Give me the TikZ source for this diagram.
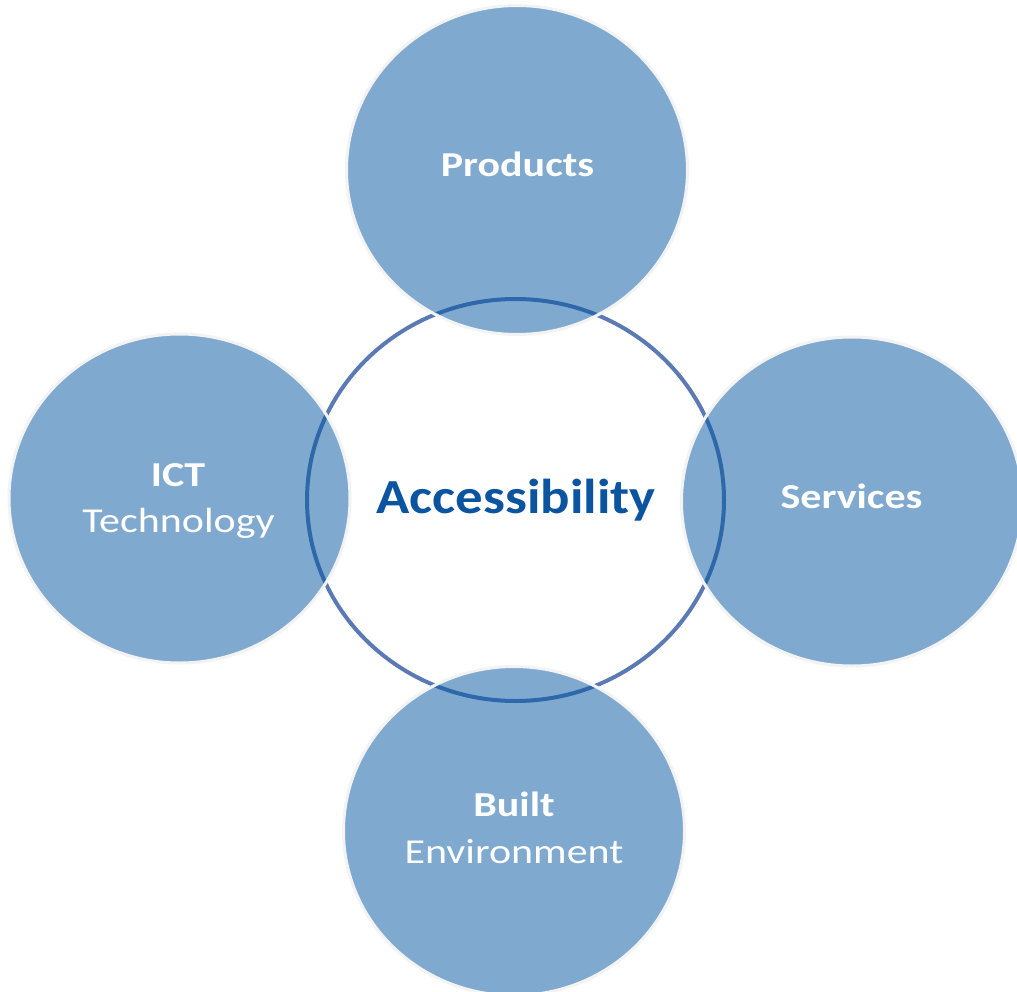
\documentclass[tikz,border=0pt]{standalone}
\usepackage{fontspec}
\setmainfont{Carlito}
\usetikzlibrary{shapes.geometric}
\definecolor{petal}{RGB}{2,85,160}
\definecolor{ringblue}{RGB}{91,122,181}
\definecolor{rimgray}{RGB}{243,243,243}
\definecolor{titleblue}{RGB}{10,84,160}
\tikzset{
  petal/.style={ellipse, inner sep=0pt, minimum width=341pt, minimum height=329pt,
    fill=petal, fill opacity=0.5, draw=rimgray, line width=3pt},
  hub/.style={ellipse, inner sep=0pt, minimum width=417pt, minimum height=402pt,
    draw=ringblue, line width=4pt, fill=white},
  lbl/.style={anchor=base, text=white, inner sep=0pt, xscale=1.2, transform shape,
    font=\fontsize{35}{35}\selectfont},
  blbl/.style={lbl, font=\fontsize{35}{35}\selectfont\bfseries},
}
\begin{document}
\begin{tikzpicture}[x=1pt,y=-1pt]
\useasboundingbox[fill=white] (0,0) rectangle (1017,992);
\node[hub] (hub) at (515.5,500) {};
\node[petal] (products) at (517,170) {};
\node[petal] (services) at (852,501.5) {};
\node[petal] (ict) at (179.5,498.5) {};
\node[petal] (built) at (514,831) {};
\node[anchor=base, inner sep=0pt, text=titleblue, xscale=1.12, transform shape,
  font=\fontsize{49}{49}\selectfont\bfseries] (acc) at (516,513) {Accessibility};
\node[blbl] (tprod) at (517.5,177) {Products};
\node[blbl] (tserv) at (851.5,508) {Services};
\node[blbl] (tict) at (178,486) {ICT};
\node[lbl] (ttech) at (178.5,532) {Technology};
\node[blbl] (tbuilt) at (514,816) {Built};
\node[lbl] (tenv) at (514,863) {Environment};
\end{tikzpicture}
\end{document}
